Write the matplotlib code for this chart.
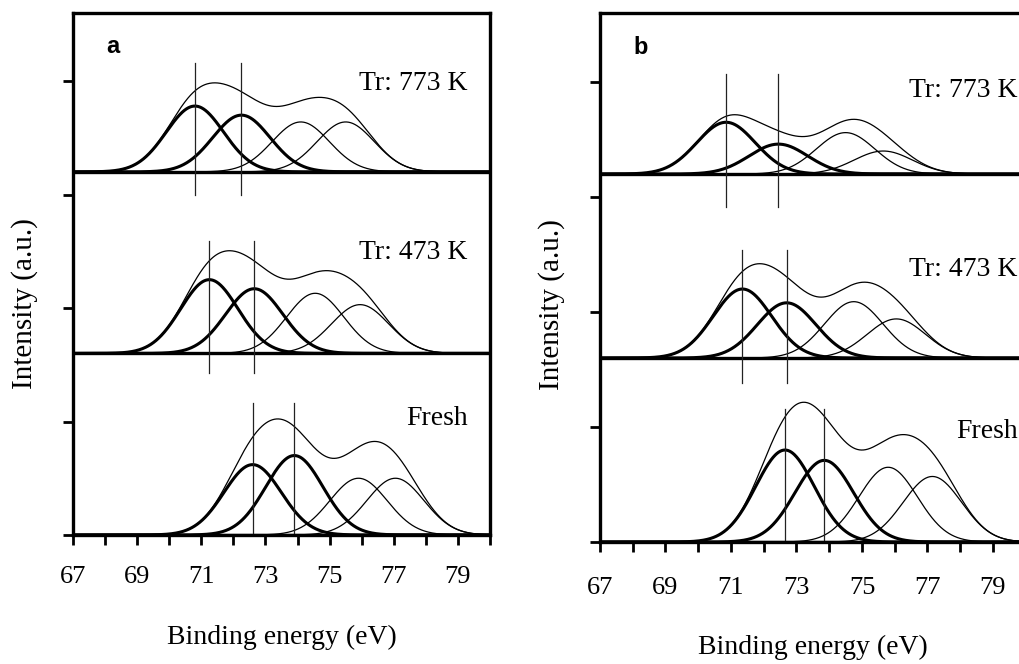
import numpy as np
import matplotlib.pyplot as plt
from matplotlib.ticker import MultipleLocator

plt.rcParams['font.family'] = ['Liberation Serif', 'DejaVu Serif']

conditions = ['Tr: 773 K', 'Tr: 473 K', 'Fresh']
offsets = [3.2, 1.6, 0.0]          # vertical stacking of the spectra
xticks = [67, 69, 71, 73, 75, 77, 79]

# peak centres (eV), heights (a.u.) and FWHM (eV); one row per condition
a_centres = [[70.8, 72.25, 74.1, 75.5],
             [71.25, 72.65, 74.55, 75.95],
             [72.6, 73.9, 75.9, 77.05]]
a_heights = [[0.58, 0.50, 0.44, 0.44],
             [0.65, 0.57, 0.53, 0.43],
             [0.62, 0.70, 0.50, 0.50]]
a_fwhm = [2.1, 2.1, 2.1, 2.1]

b_centres = [[70.85, 72.45, 74.5, 75.65],
             [71.35, 72.7, 74.75, 76.05],
             [72.65, 73.85, 75.8, 77.15]]
b_heights = [[0.45, 0.26, 0.36, 0.20],
             [0.60, 0.48, 0.49, 0.34],
             [0.80, 0.71, 0.65, 0.57]]
b_fwhm = [2.1, 2.1, 2.1, 2.1]

# lower end of the vertical marker lines relative to each baseline
a_mark_lo = [-0.2, -0.17, 0.0]
b_mark_lo = [-0.29, -0.22, 0.0]
mark_len = 1.16

# height of the condition labels above each baseline
a_text_y = [0.78, 0.89, 1.03]
b_text_y = [0.73, 0.77, 0.96]


def gauss(x, c, h, fwhm):
    s = fwhm / 2.3548
    return h * np.exp(-0.5 * ((x - c) / s) ** 2)


def draw_panel(ax, centres, heights, fwhm, mark_lo, text_y, letter, text_x):
    x = np.linspace(67, 80, 800)
    for i, base in enumerate(offsets):
        comps = [gauss(x, c, h, w) for c, h, w in zip(centres[i], heights[i], fwhm)]
        for k, y in enumerate(comps):
            ax.plot(x, base + y, color='black', lw=2.2 if k < 2 else 0.9)
        ax.plot(x, base + np.sum(comps, axis=0), color='black', lw=0.9)
        ax.axhline(base, color='black', lw=2.4)
        for c in centres[i][:2]:
            lo = base + mark_lo[i]
            ax.plot([c, c], [lo, lo + mark_len], color='#222222', lw=0.9)
        ax.text(text_x, base + text_y[i], conditions[i], ha='right', va='center', fontsize=20)

    ax.text(0.095, 0.935, letter, transform=ax.transAxes, fontsize=17,
            fontweight='bold', family='Liberation Sans', ha='center', va='center')

    ax.set_xlim(67, 80)
    ax.set_ylim(0, 4.6)
    ax.set_xticks(xticks)
    ax.xaxis.set_minor_locator(MultipleLocator(1))
    ax.yaxis.set_major_locator(MultipleLocator(1))
    ax.set_yticklabels([])
    ax.tick_params(which='both', direction='out', length=7, width=2)
    ax.tick_params(axis='x', labelsize=19, pad=15)
    for sp in ax.spines.values():
        sp.set_linewidth(2.4)
    ax.set_xlabel('Binding energy (eV)', fontsize=20, labelpad=27)
    ax.set_ylabel('Intensity (a.u.)', fontsize=21)


fig = plt.figure(figsize=(10.2, 6.64), dpi=100)
ax_a = fig.add_axes([0.0716, 0.1943, 0.4088, 0.7861])
ax_b = fig.add_axes([0.5882, 0.1837, 0.4174, 0.7967])

draw_panel(ax_a, a_centres, a_heights, a_fwhm, a_mark_lo, a_text_y, 'a', 79.3)
draw_panel(ax_b, b_centres, b_heights, b_fwhm, b_mark_lo, b_text_y, 'b', 79.75)

ax_b.tick_params(axis='x', pad=18)
ax_a.yaxis.set_label_coords(-0.084, 0.444)
ax_b.yaxis.set_label_coords(-0.082, 0.448)
ax_b.xaxis.labelpad = 26

fig.savefig('out.png', dpi=100)
